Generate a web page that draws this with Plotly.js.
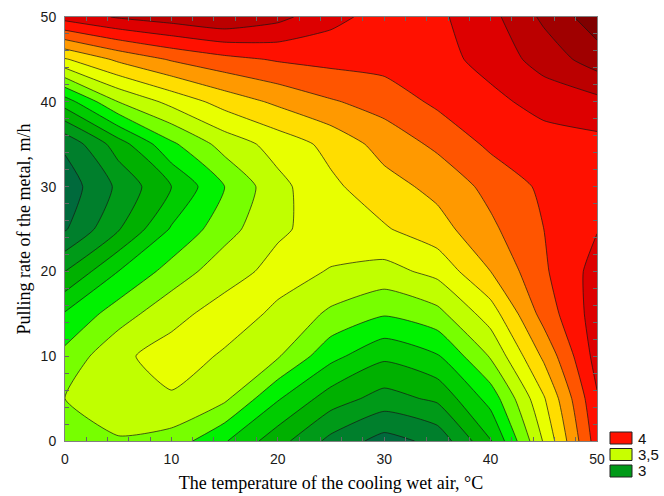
<!DOCTYPE html>
<html>
<head>
<meta charset="utf-8">
<script src="https://cdn.plot.ly/plotly-3.0.1.min.js"></script>
<style>html,body{margin:0;padding:0;background:#fff;}#chart{width:664px;height:496px;}</style>
</head>
<body>
<div id="chart"></div>
<script>
// Grid of the response surface (temperature °C along x, pulling rate m/h along y)
const temperature = [0, 5, 10, 15, 20, 25, 30, 35, 40, 45, 50];
const pullingRate = [0, 5, 10, 15, 20, 25, 30, 35, 40, 45, 50];

// z values, one array per pulling-rate row
const zAtRate0  = [3.37, 3.39, 3.36, 3.21, 3.04, 2.87, 2.76, 2.83, 3.09, 3.51, 3.95];
const zAtRate5  = [3.40, 3.47, 3.49, 3.42, 3.21, 3.05, 2.96, 3.02, 3.24, 3.59, 3.99];
const zAtRate10 = [3.33, 3.48, 3.54, 3.49, 3.41, 3.23, 3.12, 3.19, 3.41, 3.72, 4.04];
const zAtRate15 = [3.21, 3.35, 3.47, 3.54, 3.485, 3.38, 3.31, 3.37, 3.55, 3.84, 4.05];
const zAtRate20 = [3.00, 3.20, 3.34, 3.46, 3.53, 3.495, 3.465, 3.53, 3.70, 3.885, 4.04];
const zAtRate25 = [2.79, 2.99, 3.21, 3.36, 3.485, 3.54, 3.59, 3.66, 3.78, 3.90, 3.995];
const zAtRate30 = [2.74, 2.92, 3.10, 3.30, 3.47, 3.58, 3.66, 3.73, 3.83, 3.92, 3.94];
const zAtRate35 = [2.82, 3.05, 3.28, 3.44, 3.54, 3.63, 3.74, 3.82, 3.92, 3.95, 3.97];
const zAtRate40 = [3.15, 3.40, 3.53, 3.64, 3.72, 3.79, 3.84, 3.92, 3.97, 4.04, 4.07];
const zAtRate45 = [3.59, 3.72, 3.81, 3.87, 3.91, 3.93, 3.94, 3.96, 4.04, 4.14, 4.25];
const zAtRate50 = [4.04, 4.11, 4.15, 4.19, 4.13, 4.03, 3.96, 3.98, 4.07, 4.22, 4.36];

// Contour band colours, lowest band first
const bandColors = [
  '#005c3c', '#006a3c', '#007f2c', '#009a18', '#00b000', '#00cc00',
  '#00f200', '#77ff00', '#c0ff00', '#e8ff00', '#ffdd00', '#ff9900',
  '#ff5500', '#ff1100', '#dd0000', '#bb0000', '#a00000', '#800000'
];

// Legend entries
const legendLabels = ['4', '3,5', '3'];
const legendColors = ['#ff1100', '#c8ff00', '#009a18'];

const zGrid = [zAtRate0, zAtRate5, zAtRate10, zAtRate15, zAtRate20, zAtRate25,
               zAtRate30, zAtRate35, zAtRate40, zAtRate45, zAtRate50];

const n = bandColors.length - 1;
const colorscale = bandColors.map((c, k) => [k / n, c]);

const trace = {
  type: 'contour',
  x: temperature,
  y: pullingRate,
  z: zGrid,
  colorscale: colorscale,
  showscale: false,
  contours: {start: 2.7, end: 4.3, size: 0.1, coloring: 'fill', showlines: true},
  line: {color: '#151515', width: 0.7, smoothing: 0.5},
  hoverinfo: 'skip'
};

const plotLeft = 65, plotRight = 597, plotTop = 17, plotBottom = 441;
const pw = plotRight - plotLeft, ph = plotBottom - plotTop;
const px2x = p => (p - plotLeft) / pw;
const py2y = p => (plotBottom - p) / ph;

const shapes = [];
const annotations = [];
legendLabels.forEach((lab, i) => {
  const top = 432 + i * 16.5;
  shapes.push({
    type: 'rect', xref: 'paper', yref: 'paper',
    x0: px2x(610), x1: px2x(632), y0: py2y(top + 12), y1: py2y(top),
    fillcolor: legendColors[i], line: {color: '#222', width: 1}
  });
  annotations.push({
    xref: 'paper', yref: 'paper', x: px2x(636), y: py2y(top + 6),
    xanchor: 'left', yanchor: 'middle', showarrow: false, text: lab,
    font: {family: 'Liberation Sans, Arial, sans-serif', size: 15, color: '#111'}
  });
});

const axisCommon = {
  range: [0, 50], tick0: 0, dtick: 10,
  ticks: 'inside', ticklen: 4, tickcolor: '#666', tickwidth: 1,
  minor: {dtick: 2, ticks: 'inside', ticklen: 4, tickcolor: '#666', tickwidth: 1},
  showline: true, linecolor: '#808080', linewidth: 1, mirror: 'allticks',
  showgrid: false, zeroline: false,
  ticklabelstandoff: 5,
  tickfont: {family: 'Liberation Sans, Arial, sans-serif', size: 14, color: '#1a1a1a'}
};

const layout = {
  width: 664, height: 496,
  margin: {l: plotLeft, r: 664 - plotRight, t: plotTop, b: 496 - plotBottom},
  paper_bgcolor: '#ffffff', plot_bgcolor: '#ffffff',
  showlegend: false,
  xaxis: Object.assign({}, axisCommon, {
    title: {text: 'The temperature of the cooling wet air, °C', standoff: 10,
            font: {family: 'Liberation Serif, Times New Roman, serif', size: 18, color: '#000'}}
  }),
  yaxis: Object.assign({}, axisCommon, {
    title: {text: 'Pulling rate of the metal, m/h', standoff: 5,
            font: {family: 'Liberation Serif, Times New Roman, serif', size: 18, color: '#000'}}
  }),
  shapes: shapes,
  annotations: annotations
};

Plotly.newPlot('chart', [trace], layout, {displayModeBar: false, staticPlot: true});
</script>
</body>
</html>
